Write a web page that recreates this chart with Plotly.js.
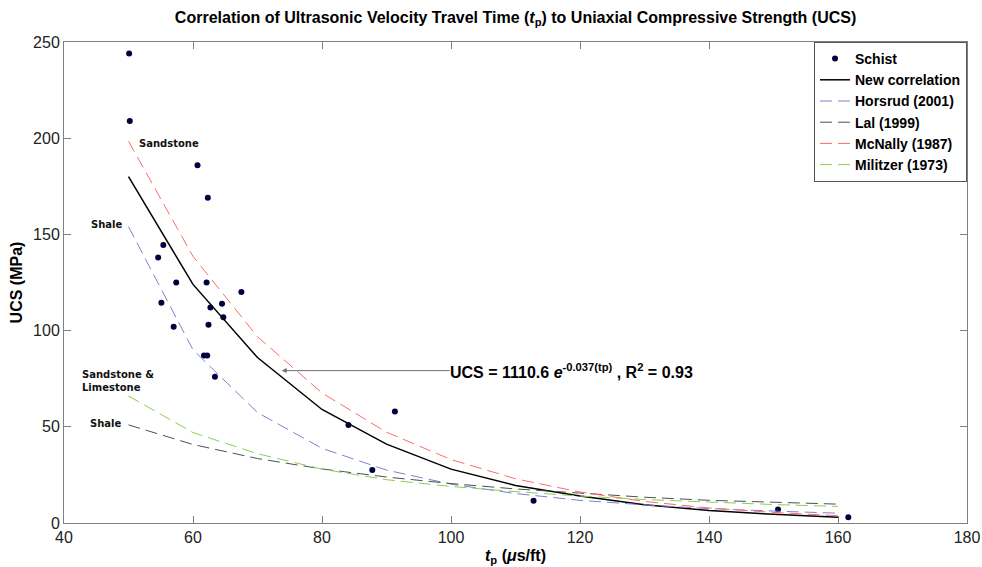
<!DOCTYPE html>
<html>
<head>
<meta charset="utf-8">
<script src="https://cdn.plot.ly/plotly-3.0.1.min.js"></script>
<style>html,body{margin:0;padding:0;background:#fff;}#chart{width:982px;height:567px;}</style>
</head>
<body>
<div id="chart"></div>
<script>
// Measured data (Schist)
const schistTp  = [50.1, 50.2, 60.7, 62.3, 55.4, 54.6, 57.4, 62.1, 67.5, 55.1, 64.5, 62.7, 64.7, 57.0, 62.4, 61.7, 62.2, 63.4, 84.1, 91.3, 87.8, 112.8, 150.7, 161.6];
const schistUcs = [244, 209, 186, 169, 144.5, 138, 125, 125, 120, 114.5, 114, 112, 107, 102, 103, 87, 87, 76, 51, 58, 27.5, 11.5, 7, 3];

// Correlation curves (read at 10 us/ft steps)
const tpCurve     = [50, 60, 70, 80, 90, 100, 110, 120, 130, 140, 150, 160];
const newCorr     = [180, 124, 86, 59, 41, 28, 19.5, 14, 9.5, 6.5, 4.5, 3];
const horsrud     = [154, 90, 57.4, 38.8, 27.5, 20.2, 15.3, 11.8, 9.4, 7.5, 6.2, 5.1];
const lal         = [51, 40.8, 33.5, 28.1, 23.9, 20.5, 17.7, 15.4, 13.4, 11.8, 10.7, 9.8];
const mcnally     = [198.4, 138.6, 96.8, 67.6, 47.2, 33, 23, 16.1, 11.2, 7.8, 5.5, 3.8];
const militzer    = [66, 47, 36, 28, 22.5, 19, 16.3, 14, 12.2, 10.8, 9.6, 8.6];

const dash = '12px,6px';
const traces = [
  {x: schistTp, y: schistUcs, mode: 'markers', name: '<b>Schist</b>',
   marker: {color: '#000040', size: 6}},
  {x: tpCurve, y: newCorr, mode: 'lines', name: '<b>New correlation</b>',
   line: {color: '#000000', width: 1.5}},
  {x: tpCurve, y: horsrud, mode: 'lines', name: '<b>Horsrud (2001)</b>',
   line: {color: '#7f7fd0', width: 1, dash: dash}},
  {x: tpCurve, y: lal, mode: 'lines', name: '<b>Lal (1999)</b>',
   line: {color: '#505050', width: 1, dash: dash}},
  {x: tpCurve, y: mcnally, mode: 'lines', name: '<b>McNally (1987)</b>',
   line: {color: '#ff6a6a', width: 1, dash: dash}},
  {x: tpCurve, y: militzer, mode: 'lines', name: '<b>Militzer (1973)</b>',
   line: {color: '#8ccf4f', width: 1, dash: dash}}
];

const labelFont = {family: 'DejaVu Sans', size: 10, color: '#111', weight: 'bold'};
const axisCommon = {
  showline: true, linecolor: '#808080', linewidth: 1, mirror: 'ticks',
  ticks: 'inside', ticklen: 7, tickcolor: '#808080', showgrid: false, zeroline: false,
  tickfont: {family: 'Liberation Sans, Arial', size: 16, color: '#222'}
};

const layout = {
  width: 982, height: 567,
  margin: {l: 64, r: 15, t: 42, b: 44},
  paper_bgcolor: '#fff', plot_bgcolor: '#fff',
  font: {family: 'Liberation Sans, Arial', color: '#000'},
  title: {text: '<b>Correlation of Ultrasonic Velocity Travel Time (<i>t</i><sub>p</sub>) to Uniaxial Compressive Strength (UCS)</b>',
          font: {family: 'Liberation Sans, Arial', size: 16, color: '#000'},
          x: 0.525, xanchor: 'center', y: 0.97, yanchor: 'middle'},
  xaxis: Object.assign({}, axisCommon, {range: [40, 180], dtick: 20,
    title: {text: '<b><i>t</i><sub>p</sub> (<i>μ</i>s/ft)</b>', font: {size: 16, color: '#000'}, standoff: 4}}),
  yaxis: Object.assign({}, axisCommon, {range: [0, 250], dtick: 50,
    title: {text: '<b>UCS (MPa)</b>', font: {size: 16, color: '#000'}, standoff: 6}}),
  showlegend: true,
  legend: {x: 1, xanchor: 'right', y: 1, yanchor: 'top', bgcolor: '#fff',
    bordercolor: '#555', borderwidth: 1, tracegroupgap: 0,
    font: {family: 'Liberation Sans, Arial', size: 14, color: '#000'}},
  annotations: [
    {x: 51.3, y: 197.5, xref: 'x', yref: 'y', text: 'Sandstone', showarrow: false, xanchor: 'left', font: labelFont},
    {x: 43.9, y: 155.4, xref: 'x', yref: 'y', text: 'Shale', showarrow: false, xanchor: 'left', font: labelFont},
    {x: 42.5, y: 73.8, xref: 'x', yref: 'y', text: 'Sandstone &amp;<br>Limestone', showarrow: false, xanchor: 'left', align: 'left', font: labelFont},
    {x: 43.7, y: 51.5, xref: 'x', yref: 'y', text: 'Shale', showarrow: false, xanchor: 'left', font: labelFont},
    {x: 73.75, y: 79.2, xref: 'x', yref: 'y',
     text: '<b>UCS = 1110.6 <i>e</i><sup>-0.037(tp)</sup> , R<sup>2</sup> = 0.93</b>',
     showarrow: true, ax: 290, ay: 0, arrowhead: 2, arrowsize: 1, arrowwidth: 1,
     arrowcolor: '#707070', standoff: 0, borderpad: 0,
     font: {family: 'Liberation Sans, Arial', size: 16, color: '#000'}}
  ]
};

Plotly.newPlot('chart', traces, layout, {displayModeBar: false, staticPlot: true});
</script>
</body>
</html>
